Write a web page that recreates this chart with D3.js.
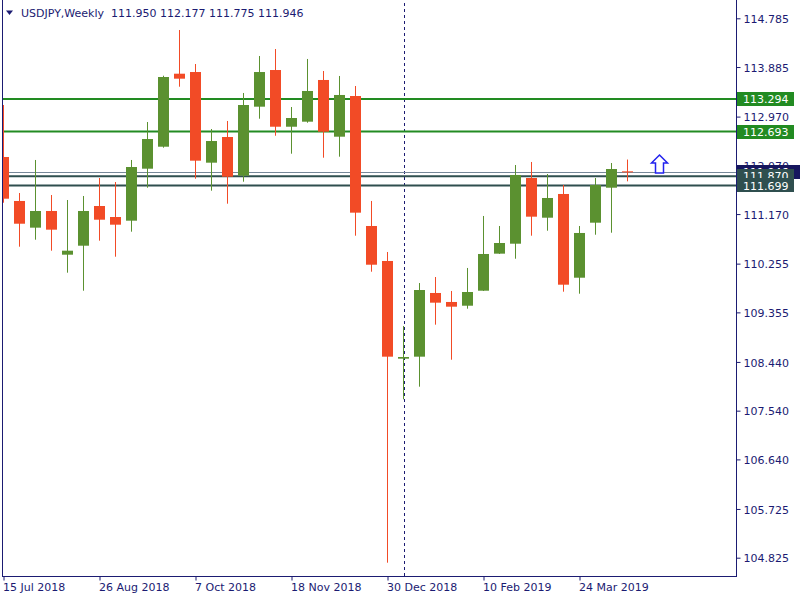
<!DOCTYPE html>
<html>
<head>
<meta charset="utf-8">
<script src="https://cdn.jsdelivr.net/npm/d3@7/dist/d3.min.js"></script>
<style>
  html, body { margin: 0; padding: 0; background: #ffffff; }
  svg { display: block; font-family: "DejaVu Sans", Verdana, sans-serif; }
</style>
</head>
<body>
<svg id="chart" width="800" height="600"></svg>
<script>
// ---- data ----
const dates = ["15 Jul 2018","22 Jul 2018","29 Jul 2018","5 Aug 2018","12 Aug 2018","19 Aug 2018",
  "26 Aug 2018","2 Sep 2018","9 Sep 2018","16 Sep 2018","23 Sep 2018","30 Sep 2018",
  "7 Oct 2018","14 Oct 2018","21 Oct 2018","28 Oct 2018","4 Nov 2018","11 Nov 2018",
  "18 Nov 2018","25 Nov 2018","2 Dec 2018","9 Dec 2018","16 Dec 2018","23 Dec 2018",
  "30 Dec 2018","6 Jan 2019","13 Jan 2019","20 Jan 2019","27 Jan 2019","3 Feb 2019",
  "10 Feb 2019","17 Feb 2019","24 Feb 2019","3 Mar 2019","10 Mar 2019","17 Mar 2019",
  "24 Mar 2019","31 Mar 2019","7 Apr 2019","14 Apr 2019"];
const opens  = [112.224,111.412,110.919,111.227,110.420,110.586,111.319,111.116,111.048,112.008,112.414,113.762,
  113.793,112.119,112.593,111.879,113.153,113.830,112.783,112.876,113.646,112.599,113.350,110.950,
  110.304,108.500,108.537,109.713,109.547,109.478,109.755,110.439,110.623,111.836,111.103,111.541,
  109.995,111.011,111.657,111.950];
const highs  = [113.184,111.559,112.169,111.522,111.430,111.504,111.836,111.762,112.169,112.870,113.725,114.569,
  113.941,112.741,112.889,113.406,114.089,114.218,113.147,114.034,113.812,113.720,113.535,111.412,
  110.470,109.104,109.897,110.008,109.750,110.175,111.135,110.950,112.076,112.132,111.910,111.707,
  110.950,111.836,112.113,112.177];
const lows   = [111.380,110.568,110.697,110.494,110.088,109.755,110.679,110.383,110.845,111.657,112.396,113.522,
  111.823,111.602,111.362,111.768,112.931,112.617,112.285,112.857,112.211,112.230,110.771,110.106,
  104.733,107.750,107.983,109.128,108.481,109.423,109.750,110.435,110.346,110.771,110.863,109.737,
  109.700,110.789,110.826,111.775];
const closes = [111.454,110.992,111.227,110.882,110.494,111.227,111.066,110.974,112.039,112.556,113.701,113.670,
  112.156,112.519,111.860,113.184,113.793,112.783,112.944,113.443,112.691,113.369,111.196,110.235,
  108.537,108.531,109.768,109.534,109.460,109.731,110.433,110.636,111.892,111.122,111.467,109.866,
  110.821,111.707,112.002,111.946];

const yTickValues = [114.785,113.885,112.970,112.070,111.170,110.255,109.355,108.440,107.540,106.640,105.725,104.825];
const xTickDates = ["15 Jul 2018","26 Aug 2018","7 Oct 2018","18 Nov 2018","30 Dec 2018","10 Feb 2019","24 Mar 2019"];

const greenLevels = [113.294, 112.693];
const slateLevels = [111.870, 111.699];
const bidPrice = 111.946;
const separatorDate = "6 Jan 2019";
const arrowIndex = 41;
const arrowPrice = 112.26;
const title = "USDJPY,Weekly  111.950 112.177 111.775 111.946";

// ---- layout / styles ----
const W = 800, H = 600;
const plotLeft = 3, plotRight = 736, plotBottom = 576;
const navy = "#1b1b72";
const upColor = "#5b9130";
const downColor = "#f24b26";
const lineGreen = "#228b22";
const lineSlate = "#2f4f4f";
const bidColor = "#778899";

const svg = d3.select("#chart");

const x = d3.scaleLinear().domain([0, dates.length - 1]).range([3.5, 3.5 + 16 * (dates.length - 1)]);
const y = d3.scaleLinear().domain([104.825, 114.785]).range([557.7, 18.3]);

svg.append("defs").append("clipPath").attr("id", "plot")
  .append("rect").attr("x", plotLeft).attr("y", 0).attr("width", plotRight - plotLeft).attr("height", plotBottom);

// period separator (behind everything)
const sx = Math.round(x(dates.indexOf(separatorDate))) + 0.5;
svg.append("line")
  .attr("x1", sx).attr("x2", sx).attr("y1", 3).attr("y2", plotBottom)
  .attr("stroke", navy).attr("stroke-width", 1).attr("stroke-dasharray", "3,3");

const plot = svg.append("g").attr("clip-path", "url(#plot)");

// horizontal level lines
plot.selectAll("line.green").data(greenLevels).join("line")
  .attr("x1", plotLeft).attr("x2", plotRight)
  .attr("y1", d => y(d)).attr("y2", d => y(d))
  .attr("stroke", lineGreen).attr("stroke-width", 2);
plot.append("line")
  .attr("x1", plotLeft).attr("x2", plotRight)
  .attr("y1", Math.round(y(bidPrice)) + 0.5).attr("y2", Math.round(y(bidPrice)) + 0.5)
  .attr("stroke", bidColor).attr("stroke-width", 1);
plot.selectAll("line.slate").data(slateLevels).join("line")
  .attr("x1", plotLeft).attr("x2", plotRight)
  .attr("y1", d => y(d)).attr("y2", d => y(d))
  .attr("stroke", lineSlate).attr("stroke-width", 2);

// candles
const candles = dates.map((d, i) => ({ i, o: opens[i], h: highs[i], l: lows[i], c: closes[i] }));
const cg = plot.append("g");
candles.forEach(k => {
  const col = k.c >= k.o ? upColor : downColor;
  const cx = x(k.i);
  cg.append("rect")
    .attr("x", cx - 0.5).attr("width", 1)
    .attr("y", y(k.h)).attr("height", Math.max(1, y(k.l) - y(k.h)))
    .attr("fill", col);
  const top = y(Math.max(k.o, k.c)), bot = y(Math.min(k.o, k.c));
  if (k.i === dates.length - 1) {
    cg.append("rect").attr("x", cx - 5.5).attr("width", 11)
      .attr("y", top - 0.5).attr("height", 1).attr("fill", col);
  } else {
    cg.append("rect").attr("x", cx - 5.5).attr("width", 11)
      .attr("y", top).attr("height", Math.max(1.5, bot - top)).attr("fill", col);
  }
});

// up arrow object
const ax = x(arrowIndex), ay = y(arrowPrice);
const arrowPath = [
  [ax, ay], [ax + 8, ay + 8], [ax + 4, ay + 8], [ax + 4, ay + 18],
  [ax - 4, ay + 18], [ax - 4, ay + 8], [ax - 8, ay + 8]
];
svg.append("path")
  .attr("d", d3.line()(arrowPath) + "Z")
  .attr("fill", "#ffffff").attr("stroke", "#2222ee").attr("stroke-width", 1.5);

// frame
svg.append("line").attr("x1", 2.5).attr("x2", 2.5).attr("y1", 0).attr("y2", plotBottom + 0.5)
  .attr("stroke", navy).attr("stroke-width", 1);
svg.append("line").attr("x1", plotRight + 0.5).attr("x2", plotRight + 0.5).attr("y1", 0).attr("y2", plotBottom + 0.5)
  .attr("stroke", navy).attr("stroke-width", 1);
svg.append("line").attr("x1", 2).attr("x2", plotRight + 1).attr("y1", plotBottom + 0.5).attr("y2", plotBottom + 0.5)
  .attr("stroke", navy).attr("stroke-width", 1);

// right axis
const yAxis = d3.axisRight(y).tickValues(yTickValues).tickFormat(d3.format(".3f")).tickSize(4).tickSizeOuter(0).tickPadding(3);
const yg = svg.append("g").attr("transform", `translate(${plotRight + 0.5},0)`).call(yAxis);
yg.select(".domain").remove();
yg.selectAll("line").attr("stroke", navy);
yg.selectAll("text").attr("fill", navy).attr("font-size", 11).attr("dy", "0.38em")
  .attr("font-family", "DejaVu Sans, Verdana, sans-serif");

// bottom axis
const xAxis = d3.axisBottom(x).tickValues(xTickDates.map(d => dates.indexOf(d)))
  .tickFormat(i => dates[i]).tickSize(4).tickSizeOuter(0).tickPadding(3);
const xg = svg.append("g").attr("transform", `translate(0,${plotBottom + 0.5})`).call(xAxis);
xg.select(".domain").remove();
xg.selectAll("line").attr("stroke", navy);
xg.selectAll("text").attr("fill", navy).attr("font-size", 11).attr("text-anchor", "start").attr("dx", -1)
  .attr("font-family", "DejaVu Sans, Verdana, sans-serif");

// price labels on right axis
function priceBox(price, bg, w) {
  const cy = y(price);
  svg.append("rect").attr("x", plotRight + 1).attr("y", Math.round(cy) - 7).attr("width", w).attr("height", 14).attr("fill", bg);
  svg.append("text").attr("x", plotRight + 7).attr("y", cy).attr("dy", "0.38em")
    .attr("fill", "#ffffff").attr("font-size", 11).text(d3.format(".3f")(price));
}
greenLevels.forEach(p => priceBox(p, lineGreen, 57));
priceBox(bidPrice, "#16165e", 64);
slateLevels.forEach(p => priceBox(p, lineSlate, 57));

// title
svg.append("path").attr("d", "M6,10.5 L13,10.5 L9.5,15 Z").attr("fill", navy);
svg.append("text").attr("x", 21).attr("y", 17).attr("fill", navy).attr("font-size", 11)
  .style("white-space", "pre").text(title);
</script>
</body>
</html>
